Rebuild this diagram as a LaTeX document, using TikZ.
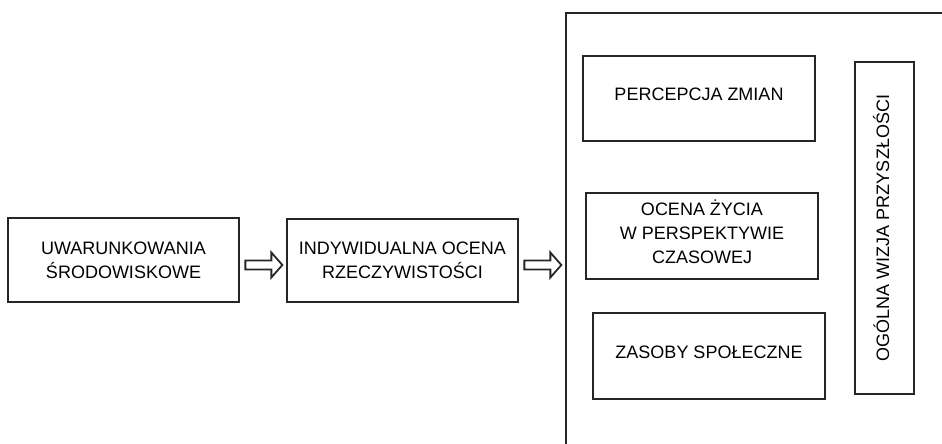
\documentclass[tikz,border=0pt]{standalone}
\usepackage{fontspec}
\setmainfont{Liberation Sans}
\usetikzlibrary{calc}
\newcommand\hollowarrow[1]{%
  \draw[blockarrow] (#1) ++(0,-4.5) -- ++(26,0) -- ++(0,-8) -- ++(11,12.5) -- ++(-11,12.5) -- ++(0,-8) -- ++(-26,0) -- cycle;}
\begin{document}
\begin{tikzpicture}[x=1pt,y=-1pt,
  box/.style={draw=black!85, line width=1.7pt, align=center, inner sep=0pt,
    font=\fontsize{18}{24}\selectfont},
  blockarrow/.style={draw=black!85, line width=1.8pt, line join=miter}]
\useasboundingbox (0,0) rectangle (942,444);
\clip (0,0) rectangle (942,444);
\node[box, minimum width=231, minimum height=84] (env) at (123.5,260) {UWARUNKOWANIA\\ŚRODOWISKOWE};
\node[box, minimum width=231, minimum height=83] (ind) at (402.5,260.5) {INDYWIDUALNA OCENA\\RZECZYWISTOŚCI};
\node[box, minimum width=600, minimum height=600, anchor=north west] (ctx) at (565,12) {};
\node[box, minimum width=232, minimum height=85, text depth=8pt] (per) at (699,98.5) {PERCEPCJA ZMIAN};
\node[box, minimum width=232, minimum height=86, text depth=8pt] (oce) at (702,236) {OCENA ŻYCIA\\W PERSPEKTYWIE\\CZASOWEJ};
\node[box, minimum width=232, minimum height=86, text depth=8pt] (zas) at (709,356) {ZASOBY SPOŁECZNE};
\node[box, minimum width=332, minimum height=59, rotate=90, text depth=7pt] (ogo) at (884.5,228) {OGÓLNA WIZJA PRZYSZŁOŚCI};
\coordinate (a1) at ($(env.east)+(5.5,5)$);
\coordinate (a2) at ($(ind.east)+(5.5,4.5)$);
\hollowarrow{a1}
\hollowarrow{a2}
\end{tikzpicture}
\end{document}
